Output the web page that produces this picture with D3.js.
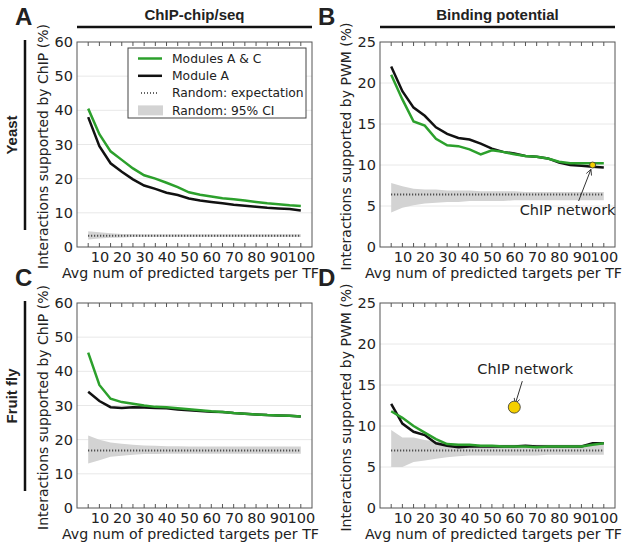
<!DOCTYPE html>
<html>
<head>
<meta charset="utf-8">
<script src="https://cdn.jsdelivr.net/npm/d3@7"></script>
<style>
  body { margin: 0; background: #fff; }
  svg text { font-family: "DejaVu Sans", sans-serif; fill: #222; }
  .hdr { font-family: "Liberation Sans", Arial, sans-serif !important; font-weight: bold; }
</style>
</head>
<body>
<div id="chart"></div>
<script>
'use strict';
// x values: average number of predicted targets per TF
const targets = [5,10,15,20,25,30,35,40,45,50,55,60,65,70,75,80,85,90,95,100];
const xTicks = [10,20,30,40,50,60,70,80,90,100];

// A: yeast, ChIP-chip/seq
const yeastChipAC = [40.5,33,28,25.5,23,21,20,18.8,17.5,16,15.3,14.8,14.3,14,13.6,13.2,12.8,12.5,12.2,12];
const yeastChipA  = [38,29.5,24.5,22,19.8,18,17,15.9,15.2,14.2,13.6,13.2,12.8,12.4,12.1,11.8,11.5,11.3,11.1,10.7];
const yeastChipLo = [2.2,2.5,2.7,2.8,2.9,2.9,2.9,2.9,2.9,2.9,2.9,2.9,2.9,2.9,2.9,2.9,2.9,2.9,2.9,2.9];
const yeastChipHi = [4.6,4.3,4.0,3.8,3.8,3.7,3.7,3.7,3.7,3.7,3.7,3.7,3.7,3.7,3.7,3.7,3.7,3.7,3.7,3.7];
const yeastChipExp = 3.3;

// B: yeast, binding potential
const yeastPwmAC = [21,18,15.3,14.8,13.2,12.4,12.3,11.9,11.3,11.8,11.6,11.3,11.1,11,10.8,10.4,10.2,10.2,10.2,10.2];
const yeastPwmA  = [22,19,17,16,14.6,13.8,13.3,13.1,12.6,12,11.6,11.4,11.1,11,10.8,10.3,10,9.9,9.8,9.7];
const yeastPwmLo = [4.2,4.8,5.1,5.3,5.4,5.5,5.5,5.6,5.6,5.6,5.6,5.7,5.7,5.7,5.7,5.7,5.7,5.7,5.7,5.7];
const yeastPwmHi = [7.8,7.4,7.1,7.0,7.0,6.9,6.9,6.9,6.8,6.8,6.8,6.8,6.7,6.7,6.7,6.7,6.7,6.7,6.7,6.7];
const yeastPwmExp = 6.4;
const yeastPwmChip = [95, 10.0];

// C: fruit fly, ChIP-chip/seq
const flyChipAC = [45.5,36,32,31,30.5,30,29.6,29.5,29.2,28.9,28.6,28.3,28.1,27.8,27.6,27.4,27.2,27.1,27,26.8];
const flyChipA  = [34,31.3,29.5,29.3,29.5,29.4,29.3,29.2,28.8,28.6,28.4,28.2,28.1,27.8,27.6,27.4,27.2,27.1,27,26.8];
const flyChipLo = [13,14,15,15.3,15.6,15.8,15.8,15.9,15.9,15.9,15.9,15.9,15.9,15.9,15.9,15.9,15.9,15.9,15.9,15.9];
const flyChipHi = [21.2,20,19.2,18.8,18.5,18.3,18.2,18.1,18.1,18.0,18.0,18.0,18.0,18.0,18.0,18.0,18.0,18.0,18.0,18.0];
const flyChipExp = 16.8;

// D: fruit fly, binding potential
const flyPwmAC = [11.8,11,10,9.2,8.4,7.8,7.7,7.7,7.6,7.6,7.5,7.5,7.5,7.4,7.5,7.5,7.5,7.5,7.7,7.9];
const flyPwmA  = [12.7,10.3,9.3,8.9,7.9,7.6,7.4,7.5,7.5,7.5,7.5,7.5,7.6,7.5,7.5,7.5,7.5,7.5,7.9,7.9];
const flyPwmLo = [5,5,5.6,5.8,6.0,6.2,6.3,6.4,6.4,6.4,6.4,6.4,6.4,6.4,6.5,6.5,6.5,6.5,6.5,6.5];
const flyPwmHi = [9.5,8.6,8.6,8.3,8.1,7.9,7.8,7.7,7.7,7.7,7.7,7.7,7.7,7.7,7.7,7.7,7.7,7.7,7.7,7.7];
const flyPwmExp = 7.0;
const flyPwmChip = [60, 12.3];

const chipTicks = [0,10,20,30,40,50,60];
const pwmTicks = [0,5,10,15,20,25];
const legendLabels = ["Modules A & C", "Module A", "Random: expectation", "Random: 95% CI"];

const W = 626, H = 547;
const pw = 235, ph = 205;
const green = "#2ca02c", black = "#111";

const svg = d3.select("#chart").append("svg")
    .attr("width", W)
    .attr("height", H);

function drawPanel(opt) {
  const g = svg.append("g")
      .attr("transform", "translate(" + opt.left + "," + opt.top + ")");

  const x = d3.scaleLinear().domain([0, 105]).range([0, pw]);
  const y = d3.scaleLinear().domain([0, opt.ymax]).range([ph, 0]);

  // grid
  g.selectAll(".grid").data(opt.yTicks.slice(1, -1)).enter().append("line")
      .attr("x1", 0).attr("x2", pw)
      .attr("y1", d => y(d)).attr("y2", d => y(d))
      .attr("stroke", "#e8e8e8").attr("stroke-width", 1);

  // random CI band
  const band = d3.area()
      .x((d, i) => x(targets[i]))
      .y0((d, i) => y(opt.lo[i]))
      .y1((d, i) => y(opt.hi[i]));
  g.append("path").datum(opt.lo)
      .attr("d", band)
      .attr("fill", "#d3d3d3");

  g.append("line")
      .attr("x1", x(targets[0])).attr("x2", x(targets[targets.length - 1]))
      .attr("y1", y(opt.exp)).attr("y2", y(opt.exp))
      .attr("stroke", "#333").attr("stroke-width", 2)
      .attr("stroke-dasharray", "1,2");

  const line = d3.line()
      .x((d, i) => x(targets[i]))
      .y(d => y(d));
  g.append("path").datum(opt.modA)
      .attr("d", line).attr("fill", "none")
      .attr("stroke", black).attr("stroke-width", 2.5);
  g.append("path").datum(opt.modAC)
      .attr("d", line).attr("fill", "none")
      .attr("stroke", green).attr("stroke-width", 2.5);

  // axes
  const xAxis = d3.axisBottom(x).tickValues(xTicks).tickSize(0).tickPadding(5);
  const xg = g.append("g").attr("transform", "translate(0," + ph + ")").call(xAxis);
  xg.select(".domain").remove();
  xg.selectAll("text").attr("font-size", 14.5).attr("fill", "#222")
      .attr("font-family", "DejaVu Sans");

  const yAxis = d3.axisLeft(y).tickValues(opt.yTicks).tickSize(0).tickPadding(4);
  const yg = g.append("g").call(yAxis);
  yg.select(".domain").remove();
  yg.selectAll("text").attr("font-size", 14.5).attr("fill", "#222")
      .attr("font-family", "DejaVu Sans");

  // inward minor ticks on top and bottom
  const minor = d3.range(5, 105, 5);
  g.selectAll(".tb").data(minor).enter().append("line")
      .attr("x1", d => x(d)).attr("x2", d => x(d))
      .attr("y1", ph).attr("y2", ph - 4)
      .attr("stroke", "#555");
  g.selectAll(".tt").data(minor).enter().append("line")
      .attr("x1", d => x(d)).attr("x2", d => x(d))
      .attr("y1", 0).attr("y2", 4)
      .attr("stroke", "#555");

  g.append("rect")
      .attr("width", pw).attr("height", ph)
      .attr("fill", "none").attr("stroke", "#555").attr("stroke-width", 1);

  // labels
  g.append("text")
      .attr("x", pw / 2 - 4).attr("y", ph + 31)
      .attr("text-anchor", "middle").attr("font-size", 14.2)
      .text("Avg num of predicted targets per TF");
  g.append("text")
      .attr("transform", "translate(-29," + (ph / 2 + 2) + ") rotate(-90)")
      .attr("text-anchor", "middle").attr("font-size", 14)
      .text(opt.ylabel);
  g.append("text").attr("class", "hdr")
      .attr("x", -62).attr("y", -17)
      .attr("font-size", 24)
      .text(opt.letter);

  if (opt.chip) {
    const px = x(opt.chip.pt[0]), py = y(opt.chip.pt[1]);
    g.append("line")
        .attr("x1", px + opt.chip.ax).attr("y1", py + opt.chip.ay)
        .attr("x2", px + opt.chip.ax * 0.12).attr("y2", py + opt.chip.ay * 0.12)
        .attr("stroke", "#333").attr("stroke-width", 1)
        .attr("marker-end", "url(#arr)");
    g.append("circle")
        .attr("cx", px).attr("cy", py).attr("r", opt.chip.r)
        .attr("fill", "#f5d000").attr("stroke", "#333").attr("stroke-width", 0.8);
    g.append("text")
        .attr("x", px + opt.chip.tx).attr("y", py + opt.chip.ty)
        .attr("text-anchor", "middle").attr("font-size", 14.5)
        .text("ChIP network");
  }
  return {g: g, x: x, y: y};
}

svg.append("defs").append("marker")
    .attr("id", "arr").attr("viewBox", "0 0 10 10")
    .attr("refX", 9).attr("refY", 5)
    .attr("markerWidth", 7).attr("markerHeight", 7)
    .attr("orient", "auto")
  .append("path")
    .attr("d", "M1,1 L9,5 L1,9")
    .attr("fill", "none").attr("stroke", "#333").attr("stroke-width", 1.2);

const pA = drawPanel({left: 77, top: 42, ymax: 60, yTicks: chipTicks,
  modAC: yeastChipAC, modA: yeastChipA, lo: yeastChipLo, hi: yeastChipHi, exp: yeastChipExp,
  ylabel: "Interactions supported by ChIP (%)", letter: "A"});
drawPanel({left: 380, top: 42, ymax: 25, yTicks: pwmTicks,
  modAC: yeastPwmAC, modA: yeastPwmA, lo: yeastPwmLo, hi: yeastPwmHi, exp: yeastPwmExp,
  ylabel: "Interactions supported by PWM (%)", letter: "B",
  chip: {pt: yeastPwmChip, r: 3, ax: -14, ay: 36, tx: -25, ty: 50}});
drawPanel({left: 77, top: 303, ymax: 60, yTicks: chipTicks,
  modAC: flyChipAC, modA: flyChipA, lo: flyChipLo, hi: flyChipHi, exp: flyChipExp,
  ylabel: "Interactions supported by ChIP (%)", letter: "C"});
drawPanel({left: 380, top: 303, ymax: 25, yTicks: pwmTicks,
  modAC: flyPwmAC, modA: flyPwmA, lo: flyPwmLo, hi: flyPwmHi, exp: flyPwmExp,
  ylabel: "Interactions supported by PWM (%)", letter: "D",
  chip: {pt: flyPwmChip, r: 6, ax: 8, ay: -26, tx: 11, ty: -33}});

// legend in panel A
const leg = pA.g.append("g").attr("transform", "translate(51,6)");
leg.append("rect").attr("width", 178).attr("height", 70)
    .attr("fill", "#fff").attr("stroke", "#444");
legendLabels.forEach(function(lbl, i) {
  const ly = 10.5 + i * 17.3;
  if (i === 0 || i === 1) {
    leg.append("line").attr("x1", 10).attr("x2", 34).attr("y1", ly).attr("y2", ly)
        .attr("stroke", i === 0 ? green : black).attr("stroke-width", 2.5);
  } else if (i === 2) {
    leg.append("line").attr("x1", 13).attr("x2", 31).attr("y1", ly).attr("y2", ly)
        .attr("stroke", "#333").attr("stroke-width", 1.5).attr("stroke-dasharray", "1,2");
  } else {
    leg.append("rect").attr("x", 10).attr("y", ly - 5).attr("width", 25).attr("height", 10)
        .attr("fill", "#d3d3d3");
  }
  leg.append("text").attr("x", 44).attr("y", ly).attr("dy", "0.35em")
      .attr("font-size", 12.3).text(lbl);
});

// column headers
[["ChIP-chip/seq", 77], ["Binding potential", 380]].forEach(function(h) {
  svg.append("text").attr("class", "hdr")
      .attr("x", h[1] + pw / 2).attr("y", 20)
      .attr("text-anchor", "middle").attr("font-size", 15)
      .text(h[0]);
  svg.append("line")
      .attr("x1", h[1]).attr("x2", h[1] + pw)
      .attr("y1", 27).attr("y2", 27)
      .attr("stroke", "#111").attr("stroke-width", 2.5);
});

// row labels
[["Yeast", 40], ["Fruit fly", 301]].forEach(function(r) {
  svg.append("line")
      .attr("x1", 25).attr("x2", 25)
      .attr("y1", r[1]).attr("y2", r[1] + 190)
      .attr("stroke", "#111").attr("stroke-width", 2.5);
  svg.append("text").attr("class", "hdr")
      .attr("transform", "translate(17," + (r[1] + 95) + ") rotate(-90)")
      .attr("text-anchor", "middle").attr("font-size", 15)
      .text(r[0]);
});
</script>
</body>
</html>
